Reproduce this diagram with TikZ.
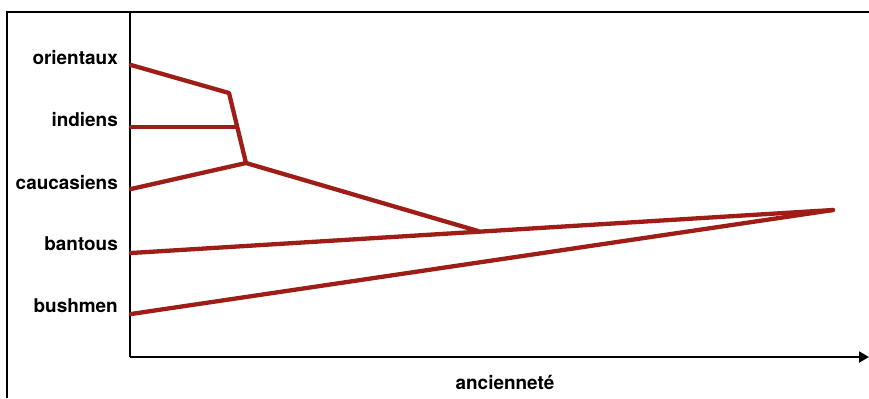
\documentclass[tikz,border=0pt]{standalone}
\usepackage{fontspec}
\setmainfont{TeX Gyre Heros}
\usetikzlibrary{arrows.meta}
\definecolor{branch}{HTML}{9E1D16}
\begin{document}
\begin{tikzpicture}[x=1bp,y=-1bp,
  lbl/.style={font=\bfseries\fontsize{19}{21}\selectfont, inner sep=0pt, anchor=base east},
  tree/.style={draw=branch, line width=4.3bp, line cap=round, line join=round},
  frame/.style={draw=black, line width=2bp},
  axis/.style={draw=black, line width=2bp}]
\useasboundingbox (0,0) rectangle (869,398);
% outer frame (partly visible)
\coordinate (fbl) at (7,398);
\coordinate (ftl) at (7,12);
\coordinate (ftr) at (869,12);
\draw[frame] (fbl) -- (ftl) -- (ftr);
% axes
\coordinate (atop) at (130,12);
\coordinate (origin) at (130,357);
\coordinate (aend) at (869,357);
\draw[axis] (atop) -- (origin);
\draw[axis, -{Triangle[length=10bp,width=11bp]}] (origin) -- (aend);
% labels
\node[lbl] (lor) at (118,64) {orientaux};
\node[lbl] (lin) at (118,126) {indiens};
\node[lbl] (lca) at (118,189) {caucasiens};
\node[lbl] (lba) at (118,250) {bantous};
\node[lbl] (lbu) at (118,312) {bushmen};
\node[font=\bfseries\fontsize{19}{21}\selectfont, inner sep=0pt, anchor=base] (lan) at (505,389) {ancienneté};
% tree coordinates
\coordinate (sor) at (131,65);
\coordinate (sin) at (131,127);
\coordinate (sca) at (131,189);
\coordinate (sba) at (131,253);
\coordinate (sbu) at (131,314);
\coordinate (kor) at (229,93);
\coordinate (kin) at (236,127);
\coordinate (kca) at (246,163);
\coordinate (kba) at (478,231);
\coordinate (root) at (833,210);
% branches
\draw[tree] (sor) -- (kor) -- (kca);
\draw[tree] (sin) -- (kin);
\draw[tree] (sca) -- (kca) -- (kba);
\draw[tree] (sba) -- (root);
\draw[tree] (sbu) -- (root);
\end{tikzpicture}
\end{document}
